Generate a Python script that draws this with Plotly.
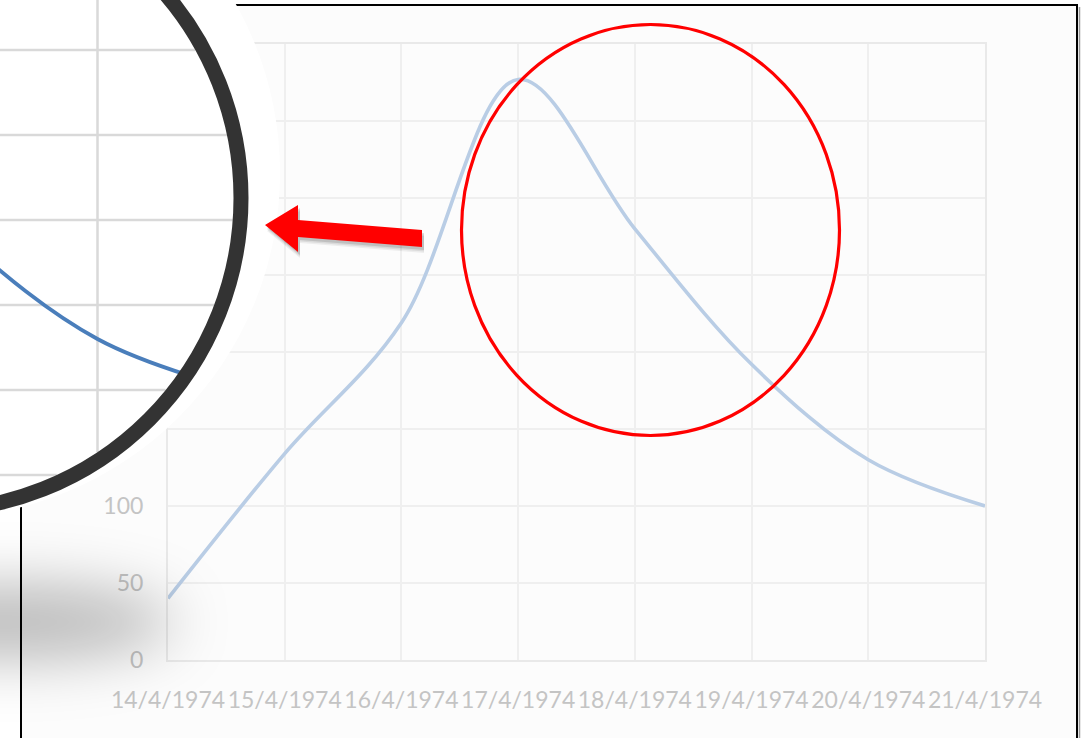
import base64
import math
import plotly.graph_objects as go

# ---- data ----
dates = ["14/4/1974", "15/4/1974", "16/4/1974", "17/4/1974",
         "18/4/1974", "19/4/1974", "20/4/1974", "21/4/1974"]
values = [40, 134, 219, 377, 280, 192, 130, 100]
y_tick_vals = [0, 50, 100, 150, 200, 250, 300, 350, 400]

W, H = 1087, 738

# plot rectangle of the main chart, in pixels
PLOT_L, PLOT_R, PLOT_T, PLOT_B = 168, 985, 44, 660


def fx(px):
    return px / W


def fy(py):
    return 1 - py / H


# magnifying lens (pixel geometry)
LENS_CX, LENS_CY, LENS_R, RING_W = -72, 198, 313, 15
HALO_CX, HALO_CY, HALO_R = -65, 173, 345
R_IN = LENS_R - RING_W / 2

# magnified view: where the focus date and the value grid land inside the lens
focus = dates.index("20/4/1974")
Z_FOCUS_X = 97.5
Z_DAY = 140.0
Z_REF_VAL, Z_REF_Y = 100, 390
Z_UNIT = 1.7
Z_RIGHT, Z_BOTTOM = 190, 510


def zx(i):
    return Z_FOCUS_X + (i - focus) * Z_DAY


def zy(v):
    return Z_REF_Y - (v - Z_REF_VAL) * Z_UNIT


FONT = "Lato, 'Open Sans', sans-serif"
LABEL_COLOR = "#c4c4c4"
GRID_COLOR = "#efefef"
AXIS_COLOR = "#e9e9e9"

fig = go.Figure()

# main series
fig.add_trace(go.Scatter(
    x=dates, y=values, mode="lines", xaxis="x", yaxis="y",
    line=dict(color="#b9cde5", width=3.6, shape="spline", smoothing=1),
    hoverinfo="skip", showlegend=False))

# empty trace that creates the pixel canvas used for the lens decoration
fig.add_trace(go.Scatter(x=[], y=[], xaxis="x2", yaxis="y2",
                         hoverinfo="skip", showlegend=False))

# magnified series inside the lens
fig.add_trace(go.Scatter(
    x=dates, y=values, mode="lines", xaxis="x3", yaxis="y3",
    line=dict(color="#4a7ebb", width=3.8, shape="spline", smoothing=1),
    hoverinfo="skip", showlegend=False))

shapes = []

# chart frame and background
shapes.append(dict(type="rect", xref="paper", yref="paper", layer="below",
                   x0=fx(21), x1=fx(1077), y0=fy(5), y1=fy(760),
                   fillcolor="#fcfcfc", line=dict(color="#000000", width=2)))
shapes.append(dict(type="line", xref="paper", yref="paper", layer="below",
                   x0=fx(1079.5), x1=fx(1079.5), y0=fy(7), y1=fy(760),
                   line=dict(color="#9a9a9a", width=1.5)))

# white halo around the lens
shapes.append(dict(type="circle", xref="x2", yref="y2", layer="below",
                   x0=HALO_CX - HALO_R, x1=HALO_CX + HALO_R,
                   y0=HALO_CY - HALO_R, y1=HALO_CY + HALO_R,
                   fillcolor="#ffffff", line=dict(width=0)))

# magnified gridlines, clipped to the lens glass
for v in y_tick_vals:
    y = zy(v)
    dy = y - LENS_CY
    if abs(dy) < R_IN:
        dx = math.sqrt(R_IN ** 2 - dy ** 2)
        shapes.append(dict(type="line", xref="x2", yref="y2", layer="below",
                           x0=LENS_CX - dx, x1=LENS_CX + dx, y0=y, y1=y,
                           line=dict(color="#d9d9d9", width=2.5)))
for i in range(len(dates)):
    x = zx(i)
    dx = x - LENS_CX
    if abs(dx) < R_IN:
        dy = math.sqrt(R_IN ** 2 - dx ** 2)
        shapes.append(dict(type="line", xref="x2", yref="y2", layer="below",
                           x0=x, x1=x, y0=LENS_CY - dy, y1=LENS_CY + dy,
                           line=dict(color="#d9d9d9", width=2.5)))

# lens rim
shapes.append(dict(type="circle", xref="x2", yref="y2", layer="above",
                   x0=LENS_CX - LENS_R, x1=LENS_CX + LENS_R,
                   y0=LENS_CY - LENS_R, y1=LENS_CY + LENS_R,
                   fillcolor="rgba(0,0,0,0)",
                   line=dict(color="#333333", width=RING_W)))

# red ellipse around the peak
shapes.append(dict(type="circle", xref="x2", yref="y2", layer="above",
                   x0=461.5, x1=839.5, y0=24.5, y1=435.5,
                   fillcolor="rgba(0,0,0,0)",
                   line=dict(color="#ff0000", width=3.2)))

# red arrow pointing at the lens, with a soft drop shadow
arrow = [(265, 225), (298, 205), (298, 220), (422, 230),
         (422, 247), (298, 237), (298, 252)]


def poly_path(pts, ox=0, oy=0):
    return "M " + " L ".join(f"{x + ox} {y + oy}" for x, y in pts) + " Z"


for k, a in ((6, 0.06), (4.5, 0.08), (3, 0.12)):
    shapes.append(dict(type="path", xref="x2", yref="y2", layer="above",
                       path=poly_path(arrow, 2, k), fillcolor=f"rgba(0,0,0,{a})",
                       line=dict(width=0)))
shapes.append(dict(type="path", xref="x2", yref="y2", layer="above",
                   path=poly_path(arrow), fillcolor="#ff0000",
                   line=dict(width=0)))

# blurred shadow below the lens
shadow_svg = (
    '<svg xmlns="http://www.w3.org/2000/svg" width="500" height="300" '
    'viewBox="0 0 500 300"><defs>'
    '<filter id="b" filterUnits="userSpaceOnUse" x="0" y="0" width="500" height="300">'
    '<feGaussianBlur stdDeviation="30"/></filter></defs>'
    '<ellipse cx="205" cy="150" rx="170" ry="36" fill="#000" '
    'fill-opacity="0.28" filter="url(#b)"/></svg>'
)
shadow_src = "data:image/svg+xml;base64," + base64.b64encode(
    shadow_svg.encode("utf-8")).decode("ascii")

hidden = dict(visible=False, showgrid=False, zeroline=False, fixedrange=True)

fig.update_layout(
    width=W, height=H, autosize=False,
    margin=dict(l=0, r=0, t=0, b=0, pad=0, autoexpand=False),
    paper_bgcolor="#ffffff", plot_bgcolor="rgba(0,0,0,0)",
    showlegend=False,
    font=dict(family=FONT, size=23, color=LABEL_COLOR),
    xaxis=dict(domain=[fx(PLOT_L), fx(PLOT_R)], type="category",
               categoryorder="array", categoryarray=dates,
               range=[0, len(dates) - 1], anchor="y",
               showgrid=True, gridcolor=GRID_COLOR, gridwidth=2,
               zeroline=False, showline=True, mirror=True,
               linecolor=AXIS_COLOR, linewidth=2, tickangle=0,
               ticks="outside", ticklen=18, tickcolor="rgba(0,0,0,0)",
               tickfont=dict(family=FONT, size=23, color=LABEL_COLOR),
               automargin=False, fixedrange=True),
    yaxis=dict(domain=[fy(PLOT_B), fy(PLOT_T)], range=[0, 400],
               tickmode="array", tickvals=y_tick_vals, anchor="x",
               showgrid=True, gridcolor=GRID_COLOR, gridwidth=2,
               zeroline=False, showline=True, mirror=True,
               linecolor=AXIS_COLOR, linewidth=2,
               ticks="outside", ticklen=18, tickcolor="rgba(0,0,0,0)",
               tickfont=dict(family=FONT, size=23, color=LABEL_COLOR),
               automargin=False, fixedrange=True),
    xaxis2=dict(domain=[0, 1], range=[0, W], type="linear", anchor="y2", **hidden),
    yaxis2=dict(domain=[0, 1], range=[H, 0], type="linear", anchor="x2", **hidden),
    xaxis3=dict(domain=[0, fx(Z_RIGHT)], type="category",
                categoryorder="array", categoryarray=dates,
                range=[focus - Z_FOCUS_X / Z_DAY,
                       focus + (Z_RIGHT - Z_FOCUS_X) / Z_DAY],
                anchor="y3", **hidden),
    yaxis3=dict(domain=[fy(Z_BOTTOM), 1],
                range=[Z_REF_VAL - (Z_BOTTOM - Z_REF_Y) / Z_UNIT,
                       Z_REF_VAL + Z_REF_Y / Z_UNIT],
                anchor="x3", **hidden),
    shapes=shapes,
    images=[dict(source=shadow_src, xref="x2", yref="y2", x=-200, y=472,
                 sizex=500, sizey=300, sizing="stretch", layer="above",
                 xanchor="left", yanchor="top")],
)

fig.write_html("out.html")
